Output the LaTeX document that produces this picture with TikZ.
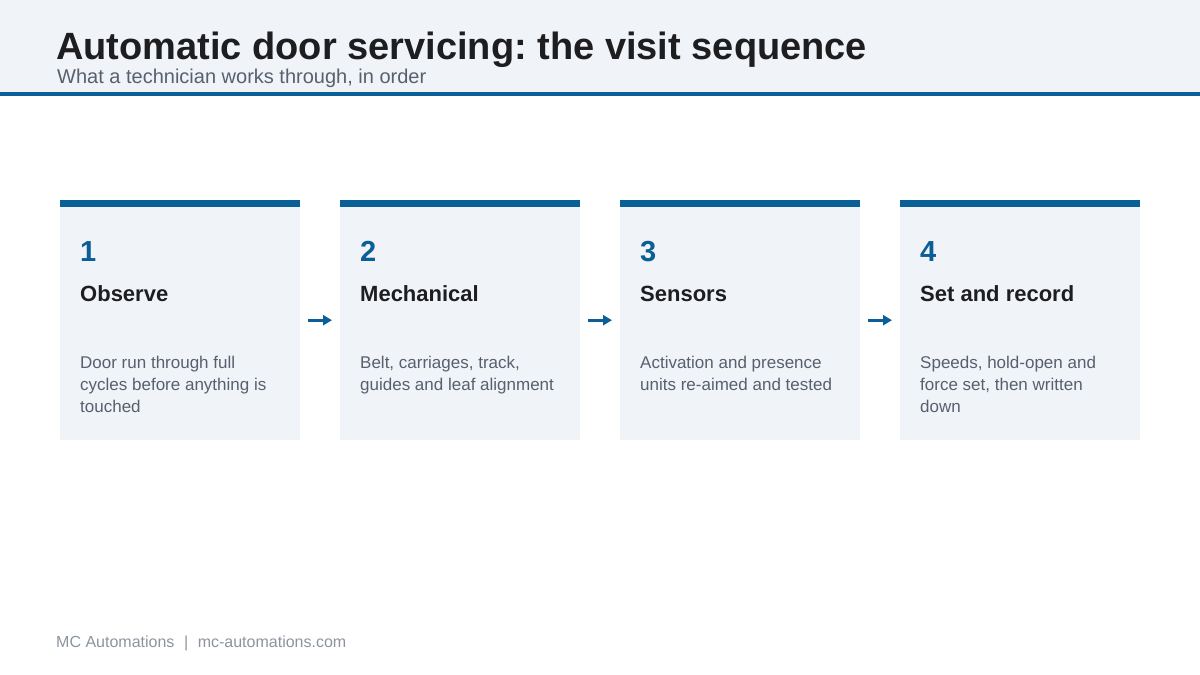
\documentclass[tikz,border=0pt]{standalone}
\usepackage{fontspec}
\setmainfont{Liberation Sans}
\usetikzlibrary{arrows.meta}
\frenchspacing
\definecolor{brand}{RGB}{10,95,150}
\definecolor{panel}{RGB}{240,244,248}
\definecolor{ink}{RGB}{30,30,32}
\definecolor{body}{RGB}{88,96,110}
\definecolor{foot}{RGB}{139,148,158}
\newcommand{\bodytext}[1]{\parbox[t]{220pt}{\raggedright\fontsize{17}{22}\selectfont #1}}
\tikzset{
  card/.style={fill=panel, draw=none, anchor=north west, minimum width=240pt, minimum height=233pt, inner sep=0pt},
  cardbar/.style={fill=brand, draw=none, anchor=south west, minimum width=240pt, minimum height=7pt, inner sep=0pt},
  num/.style={anchor=base west, inner sep=0pt, text=brand, font=\fontsize{29}{29}\selectfont\bfseries},
  ctitle/.style={anchor=base west, inner sep=0pt, text=ink, font=\fontsize{22}{22}\selectfont\bfseries},
  cbody/.style={anchor=base west, inner sep=0pt, text=body},
  flow/.style={draw=brand, line width=2.6pt, -{Triangle[length=9pt,width=10pt]}, shorten <=8pt, shorten >=8pt}
}
\begin{document}
\begin{tikzpicture}[x=1pt,y=-1pt]
\useasboundingbox (0,0) rectangle (1200,675);
% header
\fill[panel] (0,0) rectangle (1200,92);
\fill[brand] (0,92) rectangle (1200,95.5);
\node[anchor=base west, inner sep=0pt, text=ink, font=\fontsize{38}{38}\selectfont\bfseries] (title) at (56,59) {Automatic door servicing: the visit sequence};
\node[anchor=base west, inner sep=0pt, text=body, font=\fontsize{20}{20}\selectfont] (subtitle) at (57,83) {What a technician works through, in order};
% cards
\foreach \i/\x/\n/\t/\b in {
 1/60/1/Observe/{Door run through full\\cycles before anything is\\touched},
 2/340/2/Mechanical/{Belt, carriages, track,\\guides and leaf alignment},
 3/620/3/Sensors/{Activation and presence\\units re-aimed and tested},
 4/900/4/Set and record/{Speeds, hold-open and\\force set, then written\\down}}{
  \node[card] (c\i) at (\x,207) {};
  \node[cardbar] (bar\i) at (\x,207) {};
  \node[num] (n\i) at (\x+20,261) {\n};
  \node[ctitle] (t\i) at (\x+20,301) {\t};
  \node[cbody] (b\i) at (\x+20,368) {\bodytext{\b}};
}
% arrows
\draw[flow] ([yshift=3.5pt]c1.east) -- ([yshift=3.5pt]c2.west);
\draw[flow] ([yshift=3.5pt]c2.east) -- ([yshift=3.5pt]c3.west);
\draw[flow] ([yshift=3.5pt]c3.east) -- ([yshift=3.5pt]c4.west);
% footer
\node[anchor=base west, inner sep=0pt, text=foot, font=\fontsize{16}{16}\selectfont] (footer) at (56,647) {MC Automations\hspace{0.6em}|\hspace{0.6em}mc-automations.com};
\end{tikzpicture}
\end{document}
